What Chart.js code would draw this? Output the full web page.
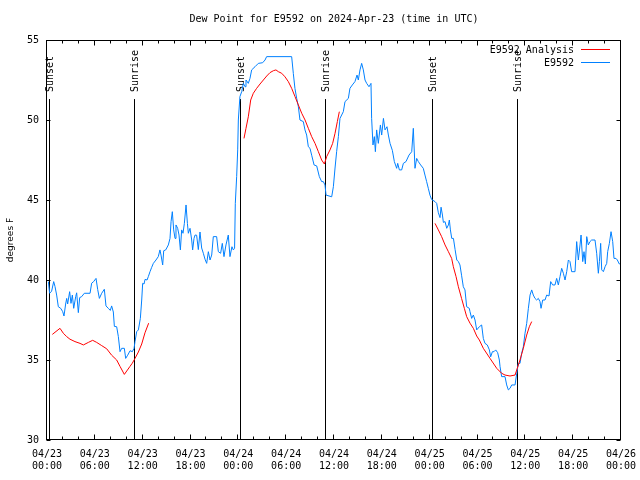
<!DOCTYPE html>
<html>
<head>
<meta charset="utf-8">
<script src="https://cdn.jsdelivr.net/npm/chart.js@4"></script>
<style>
  body { margin: 0; background: #fff; }
  canvas { display: block; }
</style>
</head>
<body>
<canvas id="dewChart" width="640" height="480"></canvas>
<script>
// hours since 04/23 00:00 UTC
const blueHours = [0.17, 0.33, 0.58, 0.84, 1.0, 1.21, 1.42, 1.72, 1.97, 2.13, 2.34, 2.47, 2.59, 2.84, 3.01, 3.18, 3.35, 3.6, 3.72, 3.93,
  4.1, 4.35, 4.68, 5.4, 5.6, 5.85, 6.15, 6.36, 6.57, 6.86, 7.19, 7.4, 7.69, 7.94, 8.11, 8.32, 8.45, 8.74, 8.95, 9.16,
  9.37, 9.7, 9.87, 10.12, 10.42, 10.71, 10.92, 11.04, 11.25, 11.46, 11.71, 11.88, 12.0, 12.17, 12.3, 12.55, 12.71, 12.92, 13.13, 13.34,
  13.67, 13.96, 14.17, 14.3, 14.51, 14.64, 14.89, 15.22, 15.43, 15.56, 15.72, 15.89, 16.06, 16.18, 16.39, 16.56, 16.73, 16.89, 17.06, 17.23,
  17.44, 17.61, 17.73, 17.94, 18.15, 18.27, 18.44, 18.57, 18.77, 18.98, 19.19, 19.4, 19.61, 19.82, 20.03, 20.24, 20.45, 20.66, 20.86, 21.28,
  21.49, 21.78, 21.99, 22.2, 22.45, 22.74, 22.95, 23.2, 23.37, 23.53, 23.62, 23.79, 23.92, 24.0, 24.2, 24.42, 24.63, 24.84, 24.96, 25.25,
  25.46, 25.67, 26.09, 26.51, 27.05, 27.35, 27.55, 30.69, 30.9, 31.1, 31.32, 31.53, 31.73, 32.15, 32.36, 32.57, 32.78, 32.99, 33.2, 33.5,
  33.83, 34.16, 34.45, 34.66, 34.87, 35.0, 35.71, 35.92, 36.13, 36.33, 36.55, 36.75, 37.17, 37.38, 37.8, 38.0, 38.3, 38.63, 38.89, 39.05,
  39.26, 39.47, 39.68, 39.89, 40.1, 40.39, 40.64, 40.72, 40.89, 41.06, 41.19, 41.35, 41.56, 41.82, 41.98, 42.2, 42.4, 42.65, 42.82, 43.03,
  43.32, 43.57, 43.86, 43.99, 44.2, 44.49, 44.7, 45.03, 45.41, 45.75, 45.95, 46.16, 46.37, 46.58, 46.87, 47.2, 47.41, 47.62, 47.83, 48.04,
  48.25, 48.67, 48.88, 49.09, 49.3, 49.43, 49.6, 49.72, 49.93, 50.14, 50.35, 50.47, 50.6, 50.77, 50.98, 51.19, 51.4, 51.6, 51.8, 52.0,
  52.22, 52.43, 52.64, 52.97, 53.06, 53.27, 53.48, 53.69, 53.9, 54.23, 54.52, 54.73, 54.94, 55.23, 55.49, 55.65, 55.87, 56.07, 56.28, 56.53,
  56.74, 56.83, 57.03, 57.45, 57.66, 57.87, 58.08, 58.29, 58.71, 58.92, 59.12, 59.33, 59.54, 59.75, 59.96, 60.17, 60.38, 60.59, 60.8, 61.0,
  61.21, 61.42, 61.63, 61.84, 61.97, 62.18, 62.47, 62.68, 62.97, 63.18, 63.43, 63.72, 63.93, 64.14, 64.35, 64.56, 64.77, 64.98, 65.19, 65.4,
  65.6, 65.81, 66.23, 66.44, 66.65, 66.86, 66.99, 67.2, 67.36, 67.53, 67.7, 67.9, 68.11, 68.32, 68.74, 68.95, 69.16, 69.29, 69.45, 69.58,
  69.79, 70.0, 70.21, 70.33, 70.54, 70.75, 70.96, 71.12, 71.37, 71.54, 71.79, 71.96];
const blueDewpt = [39.9, 39.17, 39.3, 39.9, 39.6, 39.06, 38.33, 38.23, 38.02, 37.75, 38.5, 38.85, 38.5, 39.27, 38.54, 39.06, 38.23, 38.96, 39.2, 37.96,
  38.9, 38.96, 39.17, 39.17, 39.8, 39.9, 40.1, 39.4, 38.85, 39.17, 39.42, 38.38, 38.23, 38.1, 38.38, 38.0, 37.1, 37.08, 36.46, 35.52,
  35.73, 35.73, 35.1, 35.3, 35.58, 35.52, 35.73, 36.15, 36.77, 36.88, 37.6, 38.75, 39.79, 39.75, 40.04, 40.0, 40.21, 40.52, 40.79, 41.04,
  41.25, 41.46, 41.88, 41.56, 40.94, 41.83, 41.88, 42.19, 42.6, 43.65, 44.27, 43.13, 42.6, 43.44, 43.23, 42.81, 41.88, 43.13, 42.92, 43.54,
  44.69, 43.54, 42.92, 43.23, 42.5, 41.88, 42.6, 42.81, 42.8, 41.9, 43.0, 42.0, 41.67, 41.3, 41.04, 41.77, 41.25, 41.56, 42.71, 42.71,
  41.77, 41.67, 42.29, 41.46, 42.19, 42.81, 41.46, 42.08, 41.88, 41.98, 44.79, 46.46, 48.13, 50.0, 51.46, 51.77, 52.29, 52.08, 52.5, 52.29,
  52.6, 53.13, 53.33, 53.54, 53.58, 53.75, 53.96, 53.96, 52.9, 51.98, 51.35, 50.83, 50.0, 49.9, 49.38, 49.06, 48.33, 48.23, 47.8, 47.19,
  47.13, 46.46, 46.15, 46.15, 45.94, 45.31, 45.2, 45.83, 47.0, 48.02, 48.96, 50.1, 50.52, 51.15, 51.35, 51.98, 52.19, 52.4, 52.81, 52.5,
  53.13, 53.54, 53.13, 52.5, 52.29, 52.08, 52.29, 50.1, 48.44, 48.96, 48.02, 49.38, 48.54, 49.69, 49.06, 50.1, 49.38, 49.58, 49.06, 48.54,
  48.1, 47.4, 46.98, 47.29, 46.88, 46.88, 47.29, 47.4, 47.81, 48.02, 49.48, 46.98, 47.6, 47.4, 47.19, 46.98, 46.56, 46.15, 45.73, 45.3,
  45.03, 44.9, 44.79, 44.2, 43.9, 44.55, 44.06, 43.6, 43.65, 43.23, 43.44, 43.75, 43.13, 42.6, 42.6, 41.9, 41.25, 41.15, 40.94, 40.3,
  39.58, 39.38, 38.33, 38.23, 38.02, 37.6, 37.81, 37.5, 36.88, 37.08, 37.19, 36.35, 36.04, 35.94, 35.63, 35.2, 35.52, 35.52, 35.63, 35.46,
  35.0, 34.58, 33.96, 33.96, 33.44, 33.13, 33.23, 33.44, 33.44, 34.17, 34.79, 34.79, 35.42, 35.83, 36.67, 37.29, 38.23, 39.06, 39.38, 39.06,
  38.85, 38.75, 38.85, 38.65, 38.23, 38.75, 38.75, 39.06, 39.0, 39.9, 39.69, 39.69, 40.1, 39.69, 40.21, 40.73, 40.42, 40.0, 40.52, 41.25,
  41.15, 40.52, 40.52, 42.4, 41.25, 42.19, 42.81, 41.15, 41.77, 41.0, 42.71, 42.19, 42.4, 42.5, 42.5, 41.67, 40.42, 41.15, 42.29, 40.63,
  40.52, 40.83, 41.04, 41.77, 42.29, 43.02, 42.4, 41.35, 41.35, 41.25, 41.0, 41.04];

// analysis runs, null marks the gaps between them
const redHours = [0.67, 1.63, 2.05, 2.47, 2.88, 3.51, 4.14, 4.56, 5.19, 5.73, 6.23, 6.86, 7.49, 8.11, 8.74, 9.16, 9.7, 10.41, 10.7, 11.04,
  11.46, 11.88, 12.29, 12.75, 18,
  24.71, 24.96, 25.25, 25.55, 25.88, 26.3, 26.72, 27.14, 27.56, 27.97, 28.39, 28.72, 29.02, 29.44, 29.85, 30.27, 30.69, 31.11, 31.53, 31.95,
  32.37, 32.78, 33.2, 33.62, 34.04, 34.45, 34.79, 35.08, 35.5, 35.83, 36.13, 36.42, 36.67, 42,
  48.67, 49.09, 49.5, 49.93, 50.35, 50.76, 50.97, 51.31, 51.6, 52.0, 52.35, 52.64, 53.06, 53.48, 53.9, 54.23, 54.73, 55.57, 56.41, 57.03,
  57.45, 58.08, 58.71, 58.92, 59.33, 59.75, 60.17, 60.5, 60.8];
const redDewpt = [36.6, 36.98, 36.67, 36.46, 36.3, 36.15, 36.04, 35.94, 36.1, 36.23, 36.1, 35.9, 35.7, 35.3, 35.0, 34.6, 34.1, 34.6, 34.8, 35.1,
  35.5, 36.0, 36.7, 37.3, null,
  48.85, 49.48, 50.2, 51.25, 51.67, 51.98, 52.25, 52.5, 52.75, 52.96, 53.08, 53.13, 53.02, 52.92, 52.7, 52.4, 51.98, 51.46, 50.94, 50.42,
  50.0, 49.48, 48.96, 48.54, 48.02, 47.5, 47.25, 47.71, 48.13, 48.54, 49.17, 49.9, 50.52, null,
  43.54, 43.13, 42.71, 42.19, 41.77, 41.35, 40.83, 40.21, 39.58, 38.85, 38.23, 37.71, 37.3, 36.98, 36.5, 36.25, 35.73, 35.1, 34.48, 34.17,
  34.06, 34.0, 34.06, 34.38, 35.0, 35.73, 36.56, 37.08, 37.4];

const eventHours = [0.3, 10.95, 24.25, 34.9, 48.3, 58.97];
const eventLabels = ['Sunset', 'Sunrise', 'Sunset', 'Sunrise', 'Sunset', 'Sunrise'];

const xTickHours = [0, 6, 12, 18, 24, 30, 36, 42, 48, 54, 60, 66, 72];
const xTickDates = ['04/23', '04/23', '04/23', '04/23', '04/24', '04/24', '04/24', '04/24', '04/25', '04/25', '04/25', '04/25', '04/26'];
const xTickTimes = ['00:00', '06:00', '12:00', '18:00', '00:00', '06:00', '12:00', '18:00', '00:00', '06:00', '12:00', '18:00', '00:00'];

const titleText = 'Dew Point for E9592 on 2024-Apr-23 (time in UTC)';
const mono = 'DejaVu Sans Mono';

const toPoints = (xs, ys) => xs.map((x, i) => ({ x: x, y: ys[i] }));

// sunrise/sunset markers, drawn under the data
const eventLines = {
    id: 'eventLines',
    beforeDatasetsDraw(chart) {
        const c = chart.ctx;
        const xs = chart.scales.x, ys = chart.scales.y;
        const area = chart.chartArea;
        c.save();
        c.strokeStyle = '#000';
        c.lineWidth = 1;
        c.fillStyle = '#000';
        c.font = '10px ' + mono;
        eventHours.forEach((h, i) => {
            const px = Math.round(xs.getPixelForValue(h)) + 0.5;
            c.beginPath();
            c.moveTo(px, ys.getPixelForValue(51.31));
            c.lineTo(px, area.bottom);
            c.stroke();
            c.save();
            c.translate(px + 1, ys.getPixelForValue(51.75));
            c.rotate(-Math.PI / 2);
            c.textAlign = 'left';
            c.textBaseline = 'middle';
            c.fillText(eventLabels[i], 0, 0);
            c.restore();
        });
        c.restore();
    }
};

// gnuplot style frame, inward ticks, title and key
const frame = {
    id: 'frame',
    afterDraw(chart) {
        const c = chart.ctx;
        const xs = chart.scales.x, ys = chart.scales.y;
        const a = chart.chartArea;
        const L = a.left - 0.5, R = a.right - 0.5, T = a.top + 0.5, B = a.bottom - 0.5;
        c.save();
        c.strokeStyle = '#000';
        c.lineWidth = 1;
        c.strokeRect(L, T, R - L, B - T);
        c.beginPath();
        for (let h = 0; h <= 72; h += 2) {
            const px = Math.round(xs.getPixelForValue(h)) - 0.5;
            const len = h % 6 === 0 ? 5 : 3;
            c.moveTo(px, B); c.lineTo(px, B - len);
            c.moveTo(px, T); c.lineTo(px, T + len);
        }
        for (let v = 30; v <= 55; v += 5) {
            const py = Math.round(ys.getPixelForValue(v)) + 0.5;
            c.moveTo(L, py); c.lineTo(L + 4, py);
            c.moveTo(R, py); c.lineTo(R - 4, py);
        }
        c.stroke();

        c.fillStyle = '#000';
        c.font = '10px ' + mono;
        c.textAlign = 'center';
        c.textBaseline = 'middle';
        c.fillText(titleText, (a.left + a.right) / 2, 19);

        const ds = chart.data.datasets;
        c.textAlign = 'right';
        ds.forEach((d, i) => {
            const ry = 49.5 + i * 13;
            c.fillText(d.label, 574, ry + 0.5);
            c.strokeStyle = d.borderColor;
            c.beginPath();
            c.moveTo(581, ry);
            c.lineTo(610, ry);
            c.stroke();
        });
        c.restore();
    }
};

const ctx = document.getElementById('dewChart').getContext('2d');

new Chart(ctx, {
    type: 'line',
    data: {
        datasets: [{
            label: 'E9592 Analysis',
            data: toPoints(redHours, redDewpt),
            borderColor: '#ff0000',
            borderWidth: 1,
            pointRadius: 0,
            spanGaps: false,
            tension: 0
        }, {
            label: 'E9592',
            data: toPoints(blueHours, blueDewpt),
            borderColor: '#0080ff',
            borderWidth: 1,
            pointRadius: 0,
            tension: 0
        }]
    },
    options: {
        responsive: false,
        animation: false,
        layout: { padding: { top: 40, right: 19 } },
        plugins: {
            legend: { display: false },
            tooltip: { enabled: false },
            title: { display: false }
        },
        scales: {
            x: {
                type: 'linear',
                min: 0,
                max: 72,
                afterBuildTicks: s => { s.ticks = xTickHours.map(v => ({ value: v })); },
                afterFit: s => { s.height = 40; s.paddingLeft = 0; s.paddingRight = 0; },
                ticks: {
                    autoSkip: false,
                    maxRotation: 0,
                    padding: 8,
                    color: '#000',
                    font: { family: mono, size: 10, lineHeight: 1.25 },
                    callback: (v, i) => [xTickDates[i], xTickTimes[i]]
                },
                grid: { display: false, drawTicks: false },
                border: { display: false }
            },
            y: {
                min: 30,
                max: 55,
                afterFit: s => { s.width = 47; },
                ticks: {
                    stepSize: 5,
                    padding: 8,
                    color: '#000',
                    font: { family: mono, size: 10 }
                },
                title: {
                    display: true,
                    text: 'degrees F',
                    color: '#000',
                    font: { family: 'DejaVu Sans', size: 9 },
                    padding: { top: 5, bottom: 0 }
                },
                grid: { display: false, drawTicks: false },
                border: { display: false }
            }
        }
    },
    plugins: [eventLines, frame]
});
</script>
</body>
</html>
